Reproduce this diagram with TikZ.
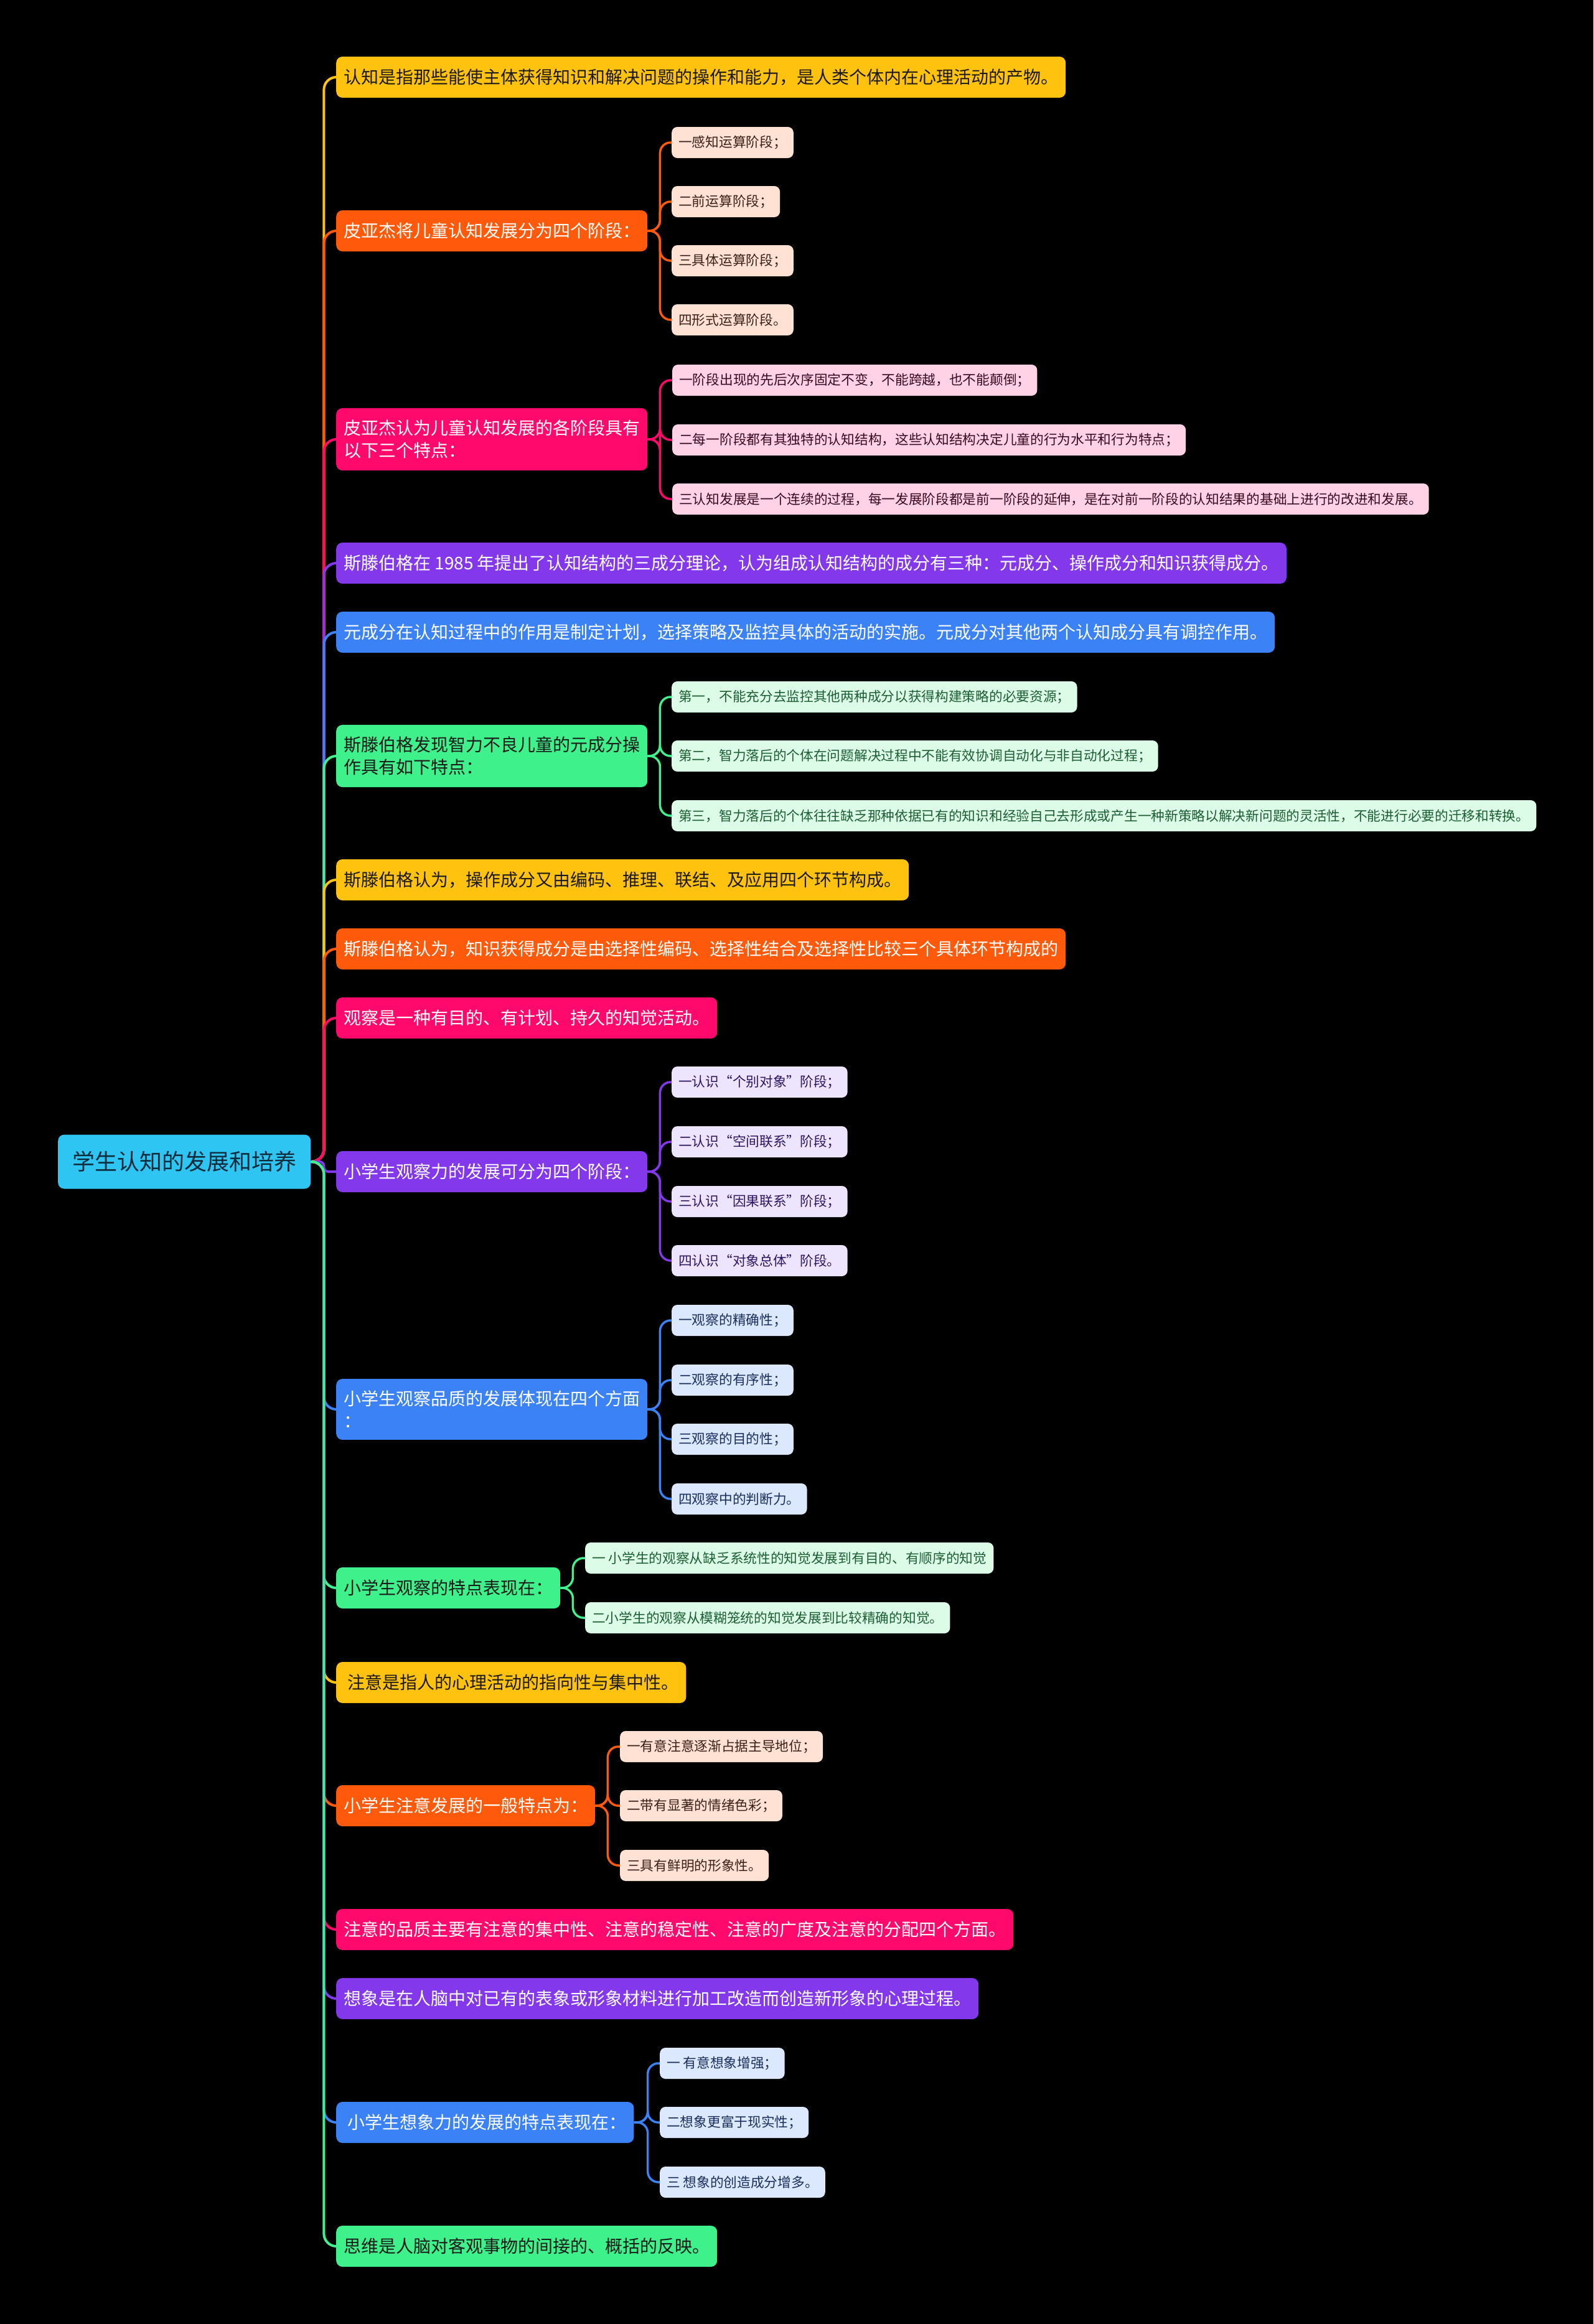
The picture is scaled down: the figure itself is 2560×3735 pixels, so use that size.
\documentclass[tikz,border=0pt]{standalone}
\usepackage{fontspec}
\setmainfont{Noto Sans CJK SC}
\usepackage{tikz}
\definecolor{rootcyan}{HTML}{2EC5F2}
\definecolor{rootink}{HTML}{0D2B3A}
\definecolor{cyellow}{HTML}{FFC20F}
\definecolor{corange}{HTML}{FF5A0B}
\definecolor{cpink}{HTML}{FF0A6C}
\definecolor{cpurple}{HTML}{8338EC}
\definecolor{cblue}{HTML}{3B82F6}
\definecolor{cgreen}{HTML}{3EF18A}
\definecolor{inkdark}{HTML}{1A1A1A}
\definecolor{kpeach}{HTML}{FFE2D4}
\definecolor{kpink}{HTML}{FFD2E5}
\definecolor{kmint}{HTML}{DCFCE8}
\definecolor{klilac}{HTML}{EDE4FE}
\definecolor{kblue}{HTML}{DCE8FD}
\definecolor{inkbrown}{HTML}{3B2016}
\definecolor{inkrose}{HTML}{3A0A1F}
\definecolor{inkgreen}{HTML}{1B5E33}
\definecolor{inkviolet}{HTML}{2C1660}
\definecolor{inknavy}{HTML}{1A2E5C}

\begin{document}
\begin{tikzpicture}[x=1pt,y=-1pt,
  root/.style={rectangle,rounded corners=10pt,fill=rootcyan,text=rootink,font=\fontsize{36pt}{44pt}\selectfont,minimum width=406pt,minimum height=87pt,inner sep=0pt,anchor=west},
  topic/.style={rectangle,rounded corners=10pt,text=white,font=\fontsize{28pt}{36pt}\selectfont,inner xsep=12pt,inner ysep=19pt,minimum height=66pt,align=left,anchor=west},
  kid/.style={rectangle,rounded corners=9pt,font=\fontsize{21.7pt}{27pt}\selectfont,inner xsep=11pt,inner ysep=12pt,minimum height=50pt,anchor=west},
  trunk/.style={line width=4pt},
  twig/.style={line width=3.5pt,rounded corners=17pt}]
  \fill[black] (0,0) rectangle (2560,3735);
  \useasboundingbox (0,0) rectangle (2560,3735);

  \node[root] (root) at (93,1867) {学生认知的发展和培养};

  \node[topic,fill=cyellow,text=inkdark] (t1) at (540,124) {认知是指那些能使主体获得知识和解决问题的操作和能力，是人类个体内在心理活动的产物。};
  \node[topic,fill=corange] (t2) at (540,371) {皮亚杰将儿童认知发展分为四个阶段：};
  \node[topic,fill=cpink] (t3) at (540,706) {皮亚杰认为儿童认知发展的各阶段具有\\以下三个特点：};
  \node[topic,fill=cpurple] (t4) at (540,905) {斯滕伯格在 1985 年提出了认知结构的三成分理论，认为组成认知结构的成分有三种：元成分、操作成分和知识获得成分。};
  \node[topic,fill=cblue] (t5) at (540,1016) {元成分在认知过程中的作用是制定计划，选择策略及监控具体的活动的实施。元成分对其他两个认知成分具有调控作用。};
  \node[topic,fill=cgreen,text=inkdark] (t6) at (540,1215) {斯滕伯格发现智力不良儿童的元成分操\\作具有如下特点：};
  \node[topic,fill=cyellow,text=inkdark] (t7) at (540,1414) {斯滕伯格认为，操作成分又由编码、推理、联结、及应用四个环节构成。};
  \node[topic,fill=corange] (t8) at (540,1525) {斯滕伯格认为，知识获得成分是由选择性编码、选择性结合及选择性比较三个具体环节构成的};
  \node[topic,fill=cpink] (t9) at (540,1636) {观察是一种有目的、有计划、持久的知觉活动。};
  \node[topic,fill=cpurple] (t10) at (540,1883) {小学生观察力的发展可分为四个阶段：};
  \node[topic,fill=cblue] (t11) at (540,2265) {小学生观察品质的发展体现在四个方面\\：};
  \node[topic,fill=cgreen,text=inkdark] (t12) at (540,2552) {小学生观察的特点表现在：};
  \node[topic,fill=cyellow,text=inkdark] (t13) at (540,2704) {\ 注意是指人的心理活动的指向性与集中性。};
  \node[topic,fill=corange] (t14) at (540,2902) {小学生注意发展的一般特点为：};
  \node[topic,fill=cpink] (t15) at (540,3101) {注意的品质主要有注意的集中性、注意的稳定性、注意的广度及注意的分配四个方面。};
  \node[topic,fill=cpurple] (t16) at (540,3212) {想象是在人脑中对已有的表象或形象材料进行加工改造而创造新形象的心理过程。};
  \node[topic,fill=cblue] (t17) at (540,3411) {\ 小学生想象力的发展的特点表现在：};
  \node[topic,fill=cgreen,text=inkdark] (t18) at (540,3610) {思维是人脑对客观事物的间接的、概括的反映。};

  \foreach \t/\c/\r in {t1/cyellow/20, t2/corange/20, t3/cpink/20, t4/cpurple/20, t5/cblue/20, t6/cgreen/20, t7/cyellow/20, t8/corange/20, t9/cpink/20, t10/cpurple/7, t11/cblue/20, t12/cgreen/20, t13/cyellow/20, t14/corange/20, t15/cpink/20, t16/cpurple/20, t17/cblue/20, t18/cgreen/20}
    \draw[trunk,\c,rounded corners=\r pt] (root.east) -- ++(21,0) |- (\t.west);

  \foreach \k/\y/\s in {a/229/一感知运算阶段；, b/324/二前运算阶段；, c/419/三具体运算阶段；, d/514/四形式运算阶段。} {
    \node[kid,fill=kpeach,text=inkbrown] (t2\k) at (1079,\y) {\s};
    \draw[twig,corange] (t2.east) -- ++(20,0) |- (t2\k.west);
  }
  \foreach \k/\y/\s in {a/611/一阶段出现的先后次序固定不变，不能跨越，也不能颠倒；, b/707/二每一阶段都有其独特的认知结构，这些认知结构决定儿童的行为水平和行为特点；, c/802/三认知发展是一个连续的过程，每一发展阶段都是前一阶段的延伸，是在对前一阶段的认知结果的基础上进行的改进和发展。} {
    \node[kid,fill=kpink,text=inkrose] (t3\k) at (1080,\y) {\s};
    \draw[twig,cpink] (t3.east) -- ++(20,0) |- (t3\k.west);
  }
  \foreach \k/\y/\s in {a/1120/第一，不能充分去监控其他两种成分以获得构建策略的必要资源；, b/1215/第二，智力落后的个体在问题解决过程中不能有效协调自动化与非自动化过程；, c/1311/第三，智力落后的个体往往缺乏那种依据已有的知识和经验自己去形成或产生一种新策略以解决新问题的灵活性，不能进行必要的迁移和转换。} {
    \node[kid,fill=kmint,text=inkgreen] (t6\k) at (1079,\y) {\s};
    \draw[twig,cgreen] (t6.east) -- ++(20,0) |- (t6\k.west);
  }
  \foreach \k/\y/\s in {a/1739/一认识“个别对象”阶段；, b/1835/二认识“空间联系”阶段；, c/1931/三认识“因果联系”阶段；, d/2026/四认识“对象总体”阶段。} {
    \node[kid,fill=klilac,text=inkviolet] (t10\k) at (1079,\y) {\s};
    \draw[twig,cpurple] (t10.east) -- ++(20,0) |- (t10\k.west);
  }
  \foreach \k/\y/\s in {a/2122/一观察的精确性；, b/2218/二观察的有序性；, c/2313/三观察的目的性；, d/2409/四观察中的判断力。} {
    \node[kid,fill=kblue,text=inknavy] (t11\k) at (1079,\y) {\s};
    \draw[twig,cblue] (t11.east) -- ++(20,0) |- (t11\k.west);
  }
  \foreach \k/\y/\s in {a/2504/一 小学生的观察从缺乏系统性的知觉发展到有目的、有顺序的知觉, b/2600/二小学生的观察从模糊笼统的知觉发展到比较精确的知觉。} {
    \node[kid,fill=kmint,text=inkgreen] (t12\k) at (940,\y) {\s};
    \draw[twig,cgreen] (t12.east) -- ++(20,0) |- (t12\k.west);
  }
  \foreach \k/\y/\s in {a/2807/一有意注意逐渐占据主导地位；, b/2902/二带有显著的情绪色彩；, c/2998/三具有鲜明的形象性。} {
    \node[kid,fill=kpeach,text=inkbrown] (t14\k) at (996,\y) {\s};
    \draw[twig,corange] (t14.east) -- ++(20,0) |- (t14\k.west);
  }
  \foreach \k/\y/\s in {a/3316/一 有意想象增强；, b/3411/二想象更富于现实性；, c/3507/三 想象的创造成分增多。} {
    \node[kid,fill=kblue,text=inknavy] (t17\k) at (1060,\y) {\s};
    \draw[twig,cblue] (t17.east) -- ++(22,0) |- (t17\k.west);
  }
\end{tikzpicture}
\end{document}
